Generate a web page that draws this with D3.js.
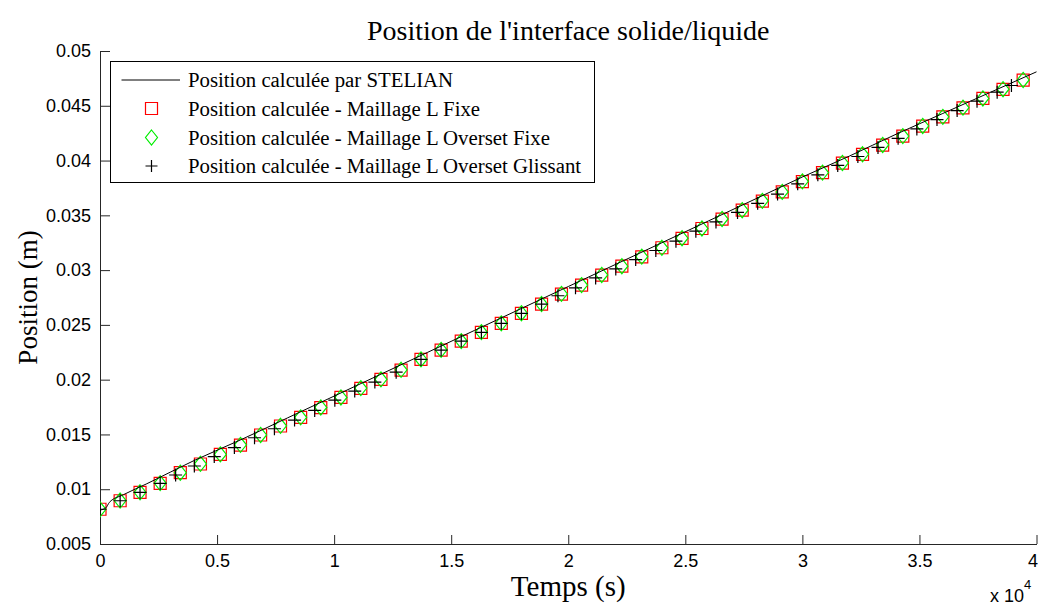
<!DOCTYPE html>
<html>
<head>
<meta charset="utf-8">
<script src="https://cdn.jsdelivr.net/npm/d3@7"></script>
<style>
  html, body { margin: 0; padding: 0; background: #fff; }
  svg { display: block; }
</style>
</head>
<body>
<svg id="chart" width="1038" height="605"></svg>
<script>
// ---------------- DATA ----------------
const title = "Position de l'interface solide/liquide";
const xLabel = "Temps (s)";
const yLabel = "Position (m)";
const xTickValues = [0, 5000, 10000, 15000, 20000, 25000, 30000, 35000, 40000];
const xTickLabels = ["0", "0.5", "1", "1.5", "2", "2.5", "3", "3.5", "4"];
const yTickValues = [0.005, 0.01, 0.015, 0.02, 0.025, 0.03, 0.035, 0.04, 0.045, 0.05];
const yTickLabels = ["0.005", "0.01", "0.015", "0.02", "0.025", "0.03", "0.035", "0.04", "0.045", "0.05"];
const seriesNames = [
  "Position calculée par STELIAN",
  "Position calculée - Maillage L Fixe",
  "Position calculée - Maillage L Overset Fixe",
  "Position calculée - Maillage L Overset Glissant"
];

// STELIAN (continuous line)
const stelianTime = [0, 250, 400, 1000, 2000, 4000, 6000, 8000, 10000, 12000, 14000, 16000, 18000, 20000, 22000, 24000, 26000, 28000, 30000, 32000, 34000, 36000, 38000, 40000];
const stelianPos  = [0.0081, 0.0083, 0.0088, 0.0095, 0.0105, 0.0126, 0.0145, 0.0165, 0.0185, 0.0205, 0.0225, 0.0245, 0.0265, 0.0285, 0.0305, 0.0325, 0.0345, 0.0365, 0.0385, 0.0404, 0.0424, 0.0443, 0.0462, 0.0481];

// Maillage L Fixe (red squares)
const fixeTime = [0, 860, 1710, 2570, 3430, 4290, 5140, 6000, 6860, 7710, 8570, 9430, 10290, 11140, 12000, 12860, 13710, 14570, 15430, 16290, 17140, 18000, 18860, 19710, 20570, 21430, 22290, 23140, 24000, 24860, 25710, 26570, 27430, 28290, 29140, 30000, 30860, 31710, 32570, 33430, 34290, 35140, 36000, 36860, 37710, 38570, 39430];
const fixePos  = [0.00817, 0.00895, 0.00972, 0.01054, 0.01151, 0.0123, 0.01318, 0.01403, 0.01495, 0.01577, 0.01656, 0.01744, 0.01838, 0.01921, 0.02003, 0.02088, 0.02185, 0.0227, 0.02352, 0.02432, 0.02514, 0.02605, 0.0269, 0.02781, 0.02863, 0.02954, 0.03036, 0.03121, 0.03204, 0.03289, 0.0338, 0.03465, 0.03547, 0.0363, 0.03714, 0.03808, 0.0389, 0.03976, 0.04057, 0.0414, 0.04223, 0.04314, 0.04399, 0.04481, 0.04567, 0.04649, 0.04734];

// Maillage L Overset Fixe (green diamonds)
const oversetFixeTime = [0, 860, 1710, 2570, 3430, 4290, 5140, 6000, 6860, 7710, 8570, 9430, 10290, 11140, 12000, 12860, 13710, 14570, 15430, 16290, 17140, 18000, 18860, 19710, 20570, 21430, 22290, 23140, 24000, 24860, 25710, 26570, 27430, 28290, 29140, 30000, 30860, 31710, 32570, 33430, 34290, 35140, 36000, 36860, 37710, 38570, 39430];
const oversetFixePos  = [0.00817, 0.00897, 0.00972, 0.01056, 0.01151, 0.01232, 0.01318, 0.01405, 0.01495, 0.01579, 0.01656, 0.01746, 0.01838, 0.01923, 0.02003, 0.0209, 0.02185, 0.02272, 0.02352, 0.02434, 0.02514, 0.02607, 0.0269, 0.02783, 0.02863, 0.02956, 0.03036, 0.03123, 0.03204, 0.03291, 0.0338, 0.03467, 0.03547, 0.03632, 0.03714, 0.0381, 0.0389, 0.03978, 0.04057, 0.04142, 0.04223, 0.04316, 0.04399, 0.04483, 0.04567, 0.04651, 0.04736];

// Maillage L Overset Glissant (black plus)
const glissantTime = [0, 860, 1710, 2570, 3230, 4030, 4880, 5740, 6600, 7450, 8310, 9170, 10030, 10880, 11740, 12650, 13710, 14570, 15430, 16290, 17140, 18000, 18860, 19560, 20310, 21170, 22030, 22880, 23740, 24600, 25450, 26310, 27230, 28090, 28940, 29800, 30660, 31510, 32370, 33230, 34090, 34890, 35750, 36610, 37460, 38320, 38930];
const glissantPos  = [0.00817, 0.00895, 0.00972, 0.01054, 0.0113, 0.01212, 0.01298, 0.0138, 0.0147, 0.01552, 0.01631, 0.01719, 0.01813, 0.01896, 0.01978, 0.02068, 0.02185, 0.0227, 0.02352, 0.02432, 0.02514, 0.02605, 0.0269, 0.02766, 0.02838, 0.02929, 0.03011, 0.03096, 0.03179, 0.03264, 0.03355, 0.0344, 0.03527, 0.0361, 0.03694, 0.03788, 0.0387, 0.03956, 0.04037, 0.0412, 0.04203, 0.04289, 0.04374, 0.04456, 0.04542, 0.04624, 0.04685];

// ---------------- LAYOUT ----------------
const W = 1038, H = 605;
const plot = { left: 100, right: 1036.5, top: 51, bottom: 544 };
const serif = "'Liberation Serif', 'Times New Roman', serif";
const sans = "'Liberation Sans', Arial, sans-serif";

const svg = d3.select("#chart");
const x = d3.scaleLinear().domain([0, 40000]).range([plot.left, plot.right]);
const y = d3.scaleLinear().domain([0.005, 0.05]).range([plot.bottom, plot.top]);

svg.append("defs").append("clipPath").attr("id", "clip")
  .append("rect").attr("x", plot.left).attr("y", plot.top - 10)
  .attr("width", W - plot.left).attr("height", plot.bottom - plot.top + 10);

// Axes (MATLAB style, inward ticks)
const xAxis = d3.axisBottom(x).tickValues(xTickValues)
  .tickFormat((d, i) => xTickLabels[i]).tickSizeInner(-9).tickSizeOuter(0).tickPadding(10);
const yAxis = d3.axisLeft(y).tickValues(yTickValues)
  .tickFormat((d, i) => yTickLabels[i]).tickSizeInner(-10).tickSizeOuter(0).tickPadding(9);

const gx = svg.append("g").attr("transform", `translate(0,${plot.bottom})`).call(xAxis);
const gy = svg.append("g").attr("transform", `translate(${plot.left},0)`).call(yAxis);
[gx, gy].forEach(g => {
  g.selectAll(".domain").attr("stroke", "#262626").attr("stroke-width", 1);
  g.selectAll(".tick line").attr("stroke", "#262626");
  g.selectAll(".tick text").attr("fill", "#000").style("font-family", sans).style("font-size", "18px");
});
// last x label sits at the right edge; keep it inside the picture
gx.selectAll(".tick text").filter((d, i) => i === xTickValues.length - 1).attr("dx", -4);

const dataG = svg.append("g").attr("clip-path", "url(#clip)");

function squarePath(s) { const h = s / 2; return `M${-h},${-h}H${h}V${h}H${-h}Z`; }
function diamondPath(w, h) { return `M0,${-h/2}L${w/2},0L0,${h/2}L${-w/2},0Z`; }
function plusPath(s) { const h = s / 2; return `M${-h},0H${h}M0,${-h}V${h}`; }

// red squares
dataG.append("g").selectAll("path").data(fixeTime.map((t, i) => [t, fixePos[i]]))
  .join("path").attr("d", squarePath(12))
  .attr("transform", d => `translate(${x(d[0])},${y(d[1])})`)
  .attr("fill", "none").attr("stroke", "#ff0000").attr("stroke-width", 1.2);

// green diamonds
dataG.append("g").selectAll("path").data(oversetFixeTime.map((t, i) => [t, oversetFixePos[i]]))
  .join("path").attr("d", diamondPath(12, 15))
  .attr("transform", d => `translate(${x(d[0])},${y(d[1])})`)
  .attr("fill", "none").attr("stroke", "#00ee00").attr("stroke-width", 1.2);

// black plus
dataG.append("g").selectAll("path").data(glissantTime.map((t, i) => [t, glissantPos[i]]))
  .join("path").attr("d", plusPath(13))
  .attr("transform", d => `translate(${x(d[0])},${y(d[1])})`)
  .attr("fill", "none").attr("stroke", "#000").attr("stroke-width", 1.2);

// STELIAN line
const line = d3.line().x(d => x(d[0])).y(d => y(d[1])).curve(d3.curveMonotoneX);
svg.append("path").datum(stelianTime.map((t, i) => [t, stelianPos[i]]))
  .attr("d", line).attr("fill", "none").attr("stroke", "#000").attr("stroke-width", 1);

// Title and labels
svg.append("text").attr("x", (plot.left + plot.right) / 2).attr("y", 40)
  .attr("text-anchor", "middle").style("font-family", serif).style("font-size", "28px")
  .text(title);
svg.append("text").attr("x", (plot.left + plot.right) / 2).attr("y", 596)
  .attr("text-anchor", "middle").style("font-family", serif).style("font-size", "29px")
  .text(xLabel);
svg.append("text").attr("transform", `translate(37,${(plot.top + plot.bottom) / 2}) rotate(-90)`)
  .attr("text-anchor", "middle").style("font-family", serif).style("font-size", "27px")
  .text(yLabel);

const expo = svg.append("text").attr("x", 990).attr("y", 602).style("font-family", sans).style("font-size", "18px");
expo.append("tspan").text("x 10");
expo.append("tspan").attr("dy", -13).style("font-size", "13px").text("4");

// Legend
const leg = svg.append("g");
leg.append("rect").attr("x", 110.5).attr("y", 61.5).attr("width", 484).attr("height", 121)
  .attr("fill", "#fff").attr("stroke", "#000").attr("stroke-width", 1);
const rowY = [80, 108.5, 137.5, 166];
const symX = 151.5, textX = 188;
leg.append("line").attr("x1", 121.5).attr("x2", 180).attr("y1", rowY[0]).attr("y2", rowY[0])
  .attr("stroke", "#000").attr("stroke-width", 1);
leg.append("path").attr("d", squarePath(12)).attr("transform", `translate(${symX},${rowY[1]})`)
  .attr("fill", "none").attr("stroke", "#ff0000").attr("stroke-width", 1.2);
leg.append("path").attr("d", diamondPath(12, 15)).attr("transform", `translate(${symX},${rowY[2]})`)
  .attr("fill", "none").attr("stroke", "#00ee00").attr("stroke-width", 1.2);
leg.append("path").attr("d", plusPath(12)).attr("transform", `translate(${symX},${rowY[3]})`)
  .attr("fill", "none").attr("stroke", "#000").attr("stroke-width", 1.2);
seriesNames.forEach((name, i) => {
  leg.append("text").attr("x", textX).attr("y", rowY[i] + 7)
    .style("font-family", serif).style("font-size", "20.8px").text(name);
});
</script>
</body>
</html>
